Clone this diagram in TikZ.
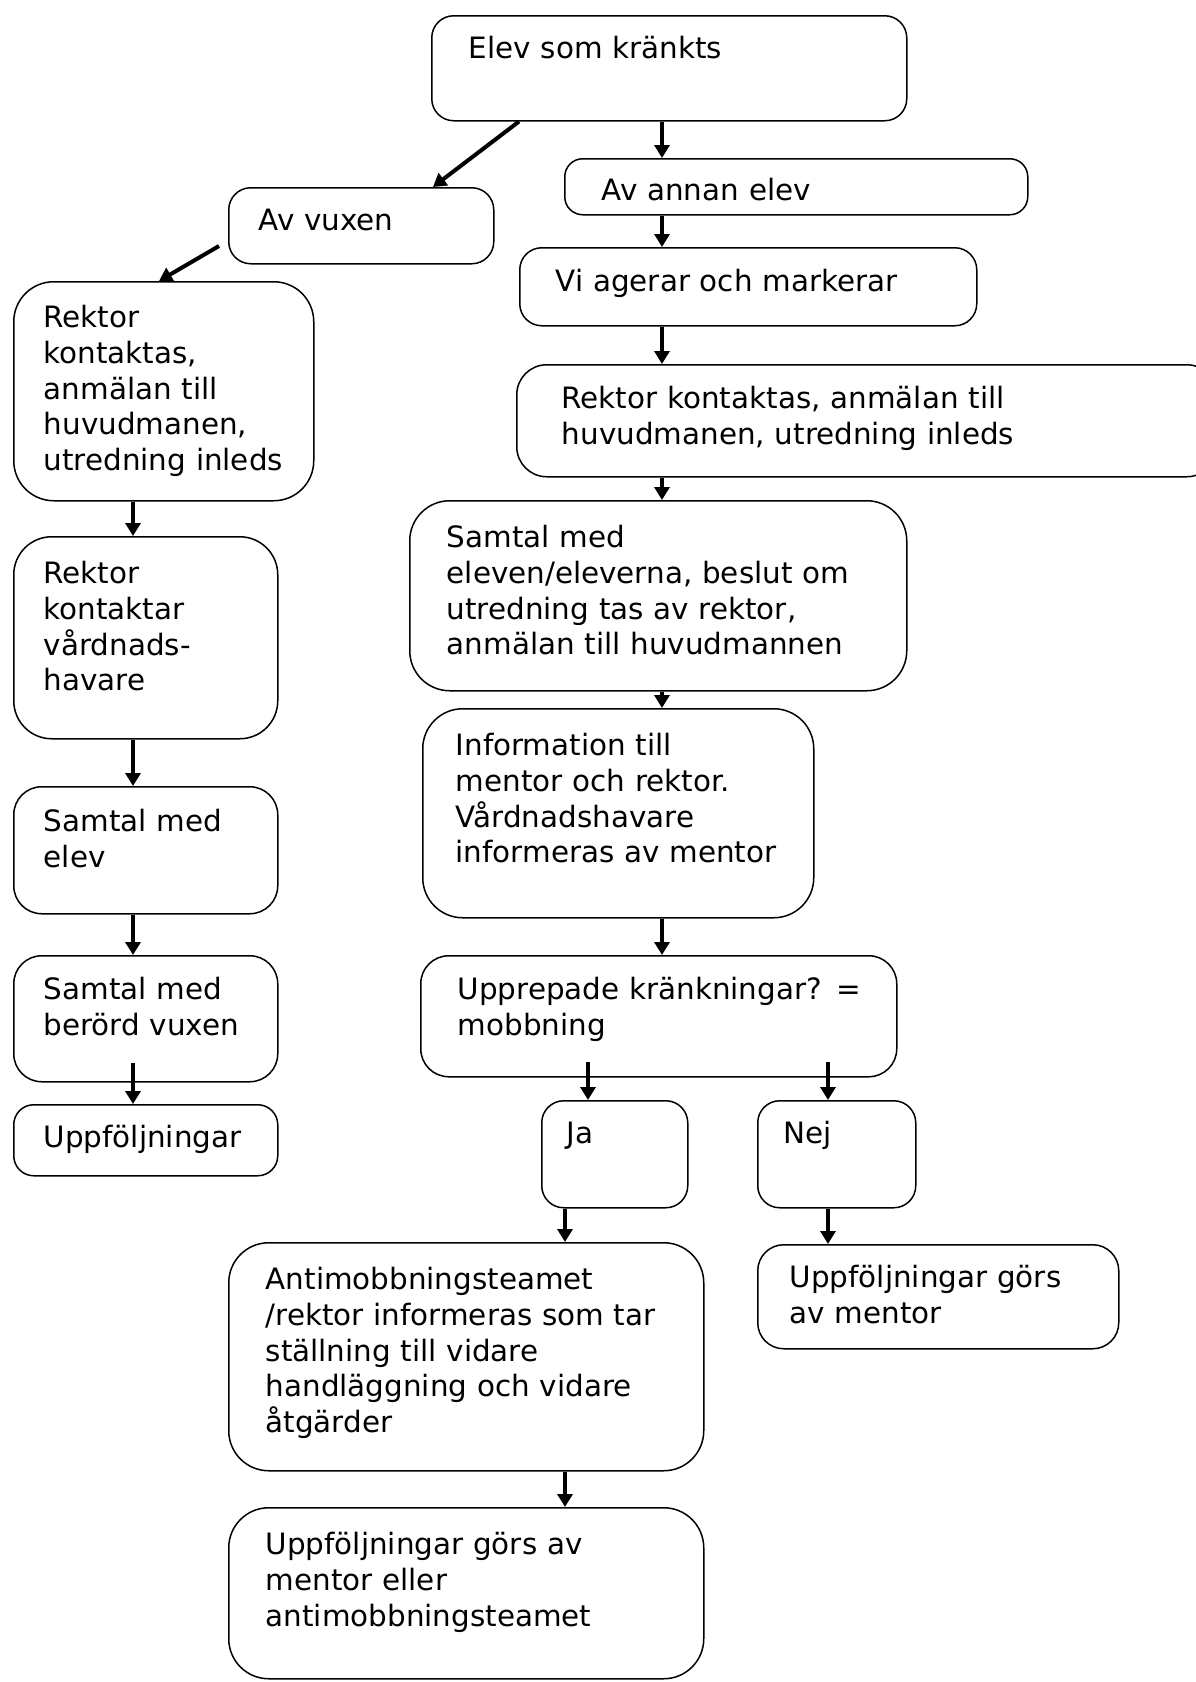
\documentclass[tikz,border=0pt]{standalone}
\usepackage{fontspec}
\setmainfont{DejaVu Sans}
\usetikzlibrary{positioning, arrows.meta}
\hyphenpenalty=10000
\newcommand{\flowfont}{\fontsize{29.4}{35.7}\selectfont}
\tikzstyle{flowbox} = [rectangle, rounded corners=22pt, draw=black, line width=1.5pt, anchor=north west, align=left, inner xsep=0pt, inner ysep=0pt, text height=45pt, font=\flowfont]
\tikzstyle{arrow} = [line width=4pt, -{Triangle[length=13pt, width=15pt]}]
\tikzset{lpad/.style={execute at begin node={\leftskip=#1\relax}}}

\begin{document}
\begin{tikzpicture}[x=1pt, y=-1pt]
    \useasboundingbox (0,0) rectangle (1195,1682);

        % Nodes
        \node (elev) [flowbox, text width=475pt, text height=43pt, text depth=62pt, lpad=37pt] at (431,15) {Elev som kränkts};
        \node (annan) [flowbox, rounded corners=18pt, text width=463pt, text height=42pt, text depth=14pt, lpad=37pt] at (564,158) {Av annan elev};
        \node (vuxen) [flowbox, text width=265pt, text height=43pt, text depth=33pt, lpad=30pt] at (228,187) {Av vuxen};
        \node (vi) [flowbox, text width=457pt, text height=44pt, text depth=34pt, lpad=36pt] at (519,247) {Vi agerar och markerar};
        \node (rekr) [flowbox, rounded corners=30pt, text width=700pt, text height=44pt, text depth=68pt, lpad=45pt] at (516,364) {Rektor kontaktas, anmälan till\\huvudmanen, utredning inleds};
        \node (samtal) [flowbox, rounded corners=40pt, text width=497pt, text height=47pt, text depth=143pt, lpad=37pt] at (409,500) {Samtal med\\eleven/eleverna, beslut om\\utredning tas av rektor,\\anmälan till huvudmannen};
        \node (info) [flowbox, rounded corners=40pt, text width=391pt, text height=47pt, text depth=162pt, lpad=33pt] at (422,708) {Information till\\mentor och rektor.\\Vårdnadshavare\\informeras av mentor};
        \node (upp) [flowbox, rounded corners=28pt, text width=476pt, text height=44pt, text depth=77pt, lpad=37pt] at (420,955) {Upprepade kränkningar? =\\mobbning};
        \node (ja) [flowbox, text width=146pt, text height=43pt, text depth=64pt, lpad=25pt] at (541,1100) {Ja};
        \node (nej) [flowbox, text width=158pt, text height=43pt, text depth=64pt, lpad=26pt] at (757,1100) {Nej};
        \node (anti) [flowbox, rounded corners=40pt, text width=475pt, text height=47pt, text depth=181pt, lpad=37pt] at (228,1242) {Antimobbningsteamet\\/rektor informeras som tar\\ställning till vidare\\handläggning och vidare\\åtgärder};
        \node (uppr) [flowbox, rounded corners=26pt, text width=361pt, text height=43pt, text depth=61pt, lpad=32pt] at (757,1244) {Uppföljningar görs\\av mentor};
        \node (uppb) [flowbox, rounded corners=40pt, text width=475pt, text height=47pt, text depth=124pt, lpad=37pt] at (228,1507) {Uppföljningar görs av\\mentor eller\\antimobbningsteamet};

        \node (rekl) [flowbox, rounded corners=40pt, text width=300pt, text height=46pt, text depth=173pt, lpad=30pt] at (13,281) {Rektor\\kontaktas,\\anmälan till\\huvudmanen,\\utredning inleds};
        \node (kont) [flowbox, rounded corners=38pt, text width=264pt, text height=47pt, text depth=155pt, lpad=30pt] at (13,536) {Rektor\\kontaktar\\vårdnads-\\havare};
        \node (elevsamt) [flowbox, rounded corners=28pt, text width=264pt, text height=45pt, text depth=82pt, lpad=30pt] at (13,786) {Samtal med\\elev};
        \node (vuxsamt) [flowbox, rounded corners=28pt, text width=264pt, text height=44pt, text depth=82pt, lpad=30pt] at (13,955) {Samtal med\\berörd vuxen};
        \node (uppl) [flowbox, rounded corners=20pt, text width=264pt, text height=43pt, text depth=28pt, lpad=30pt] at (13,1104) {Uppföljningar};

        % Arrow columns
        \coordinate (col) at (662,0);
        \coordinate (lcol) at (133,0);
        \coordinate (jcol) at (565,0);
        \coordinate (jatop) at (588,1062);
        \coordinate (nejtop) at (828,1062);
        \coordinate (vuxstart) at (219,246);
        \coordinate (vuxend) at (133,1063);

        % Arrows
        \draw [arrow] ([xshift=88pt]elev.south west) -- ([xshift=205pt]vuxen.north west);
        \draw [arrow] (vuxstart) -- ([xshift=146pt]rekl.north west);
        \draw [arrow] (elev.south -| col) -- (annan.north -| col);
        \draw [arrow] (annan.south -| col) -- (vi.north -| col);
        \draw [arrow] (vi.south -| col) -- (rekr.north -| col);
        \draw [arrow] (rekr.south -| col) -- (samtal.north -| col);
        \draw [arrow] (samtal.south -| col) -- (info.north -| col);
        \draw [arrow] (info.south -| col) -- (upp.north -| col);
        \draw [arrow] (jatop) -- (ja.north -| jatop);
        \draw [arrow] (nejtop) -- (nej.north -| nejtop);
        \draw [arrow] (ja.south -| jcol) -- (anti.north -| jcol);
        \draw [arrow] (anti.south -| jcol) -- (uppb.north -| jcol);
        \draw [arrow] (nej.south -| nejtop) -- (uppr.north -| nejtop);

        \draw [arrow] (rekl.south -| lcol) -- (kont.north -| lcol);
        \draw [arrow] (kont.south -| lcol) -- (elevsamt.north -| lcol);
        \draw [arrow] (elevsamt.south -| lcol) -- (vuxsamt.north -| lcol);
        \draw [arrow] (vuxend) -- (uppl.north -| vuxend);

    \end{tikzpicture}
\end{document}
